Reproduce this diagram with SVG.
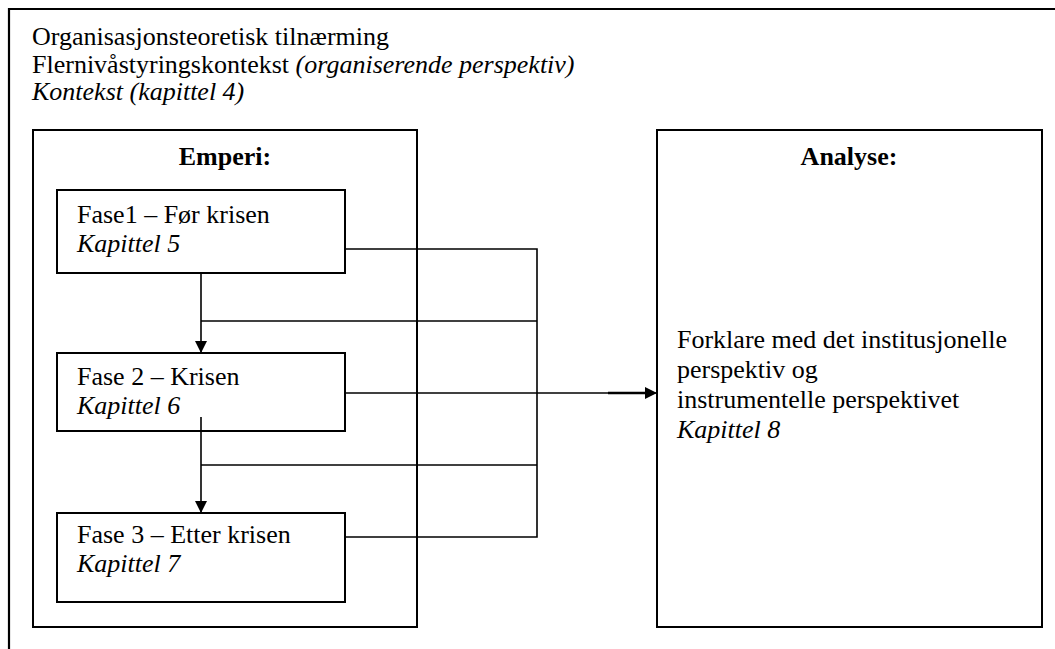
<svg xmlns="http://www.w3.org/2000/svg" width="1055" height="649" viewBox="0 0 1055 649">
<style>
text{font-family:"Liberation Serif","Times New Roman",serif;font-size:26px;fill:#000}
.i{font-style:italic}
.b{font-weight:bold}
.box{fill:#fff;stroke:#000;stroke-width:2}
.ln{fill:none;stroke:#000;stroke-width:1.6}
</style>
<defs>
<marker id="ah" viewBox="0 0 12 12" refX="12" refY="6" markerWidth="12" markerHeight="12" markerUnits="userSpaceOnUse" orient="auto">
<path d="M0,0 L12,6 L0,12 Z" fill="#000"/>
</marker>
</defs>
<rect width="1055" height="649" fill="#fff"/>
<g id="frame">
<path d="M9,649 V9 H1055" fill="none" stroke="#000" stroke-width="2.2"/>
<text x="32" y="45">Organisasjonsteoretisk tilnærming</text>
<text x="32" y="73">Flernivåstyringskontekst <tspan class="i">(organiserende perspektiv)</tspan></text>
<text x="32" y="100" class="i">Kontekst (kapittel 4)</text>
</g>
<g id="emperi">
<rect class="box" x="33" y="130" width="384" height="497"/>
<text x="225" y="165" class="b" text-anchor="middle">Emperi:</text>
</g>
<g id="analyse">
<rect class="box" x="657" y="130" width="385" height="497"/>
<text x="849" y="165" class="b" text-anchor="middle">Analyse:</text>
<text x="677" y="348">Forklare med det institusjonelle</text>
<text x="677" y="378">perspektiv og</text>
<text x="677" y="408">instrumentelle perspektivet</text>
<text x="677" y="438" class="i">Kapittel 8</text>
</g>
<g id="fase1">
<rect class="box" x="57" y="190" width="288" height="83"/>
<text x="77" y="223">Fase1 – Før krisen</text>
<text x="77" y="252" class="i">Kapittel 5</text>
</g>
<g id="fase2">
<rect class="box" x="57" y="353" width="288" height="78"/>
<text x="77" y="385">Fase 2 – Krisen</text>
<text x="77" y="414" class="i">Kapittel 6</text>
</g>
<g id="fase3">
<rect class="box" x="57" y="513" width="288" height="89"/>
<text x="77" y="543">Fase 3 – Etter krisen</text>
<text x="77" y="572" class="i">Kapittel 7</text>
</g>
<g id="connectors">
<path class="ln" d="M201,273 V353" marker-end="url(#ah)"/>
<path class="ln" d="M201,417 V513" marker-end="url(#ah)"/>
<path class="ln" d="M201,321 H537"/>
<path class="ln" d="M201,465 H537"/>
<path class="ln" d="M345,249 H537 V537 H345"/>
<path class="ln" d="M345,393 H657" marker-end="url(#ah)"/>
<path d="M608,393 H645" stroke="#000" stroke-width="2.4"/>
</g>
</svg>
